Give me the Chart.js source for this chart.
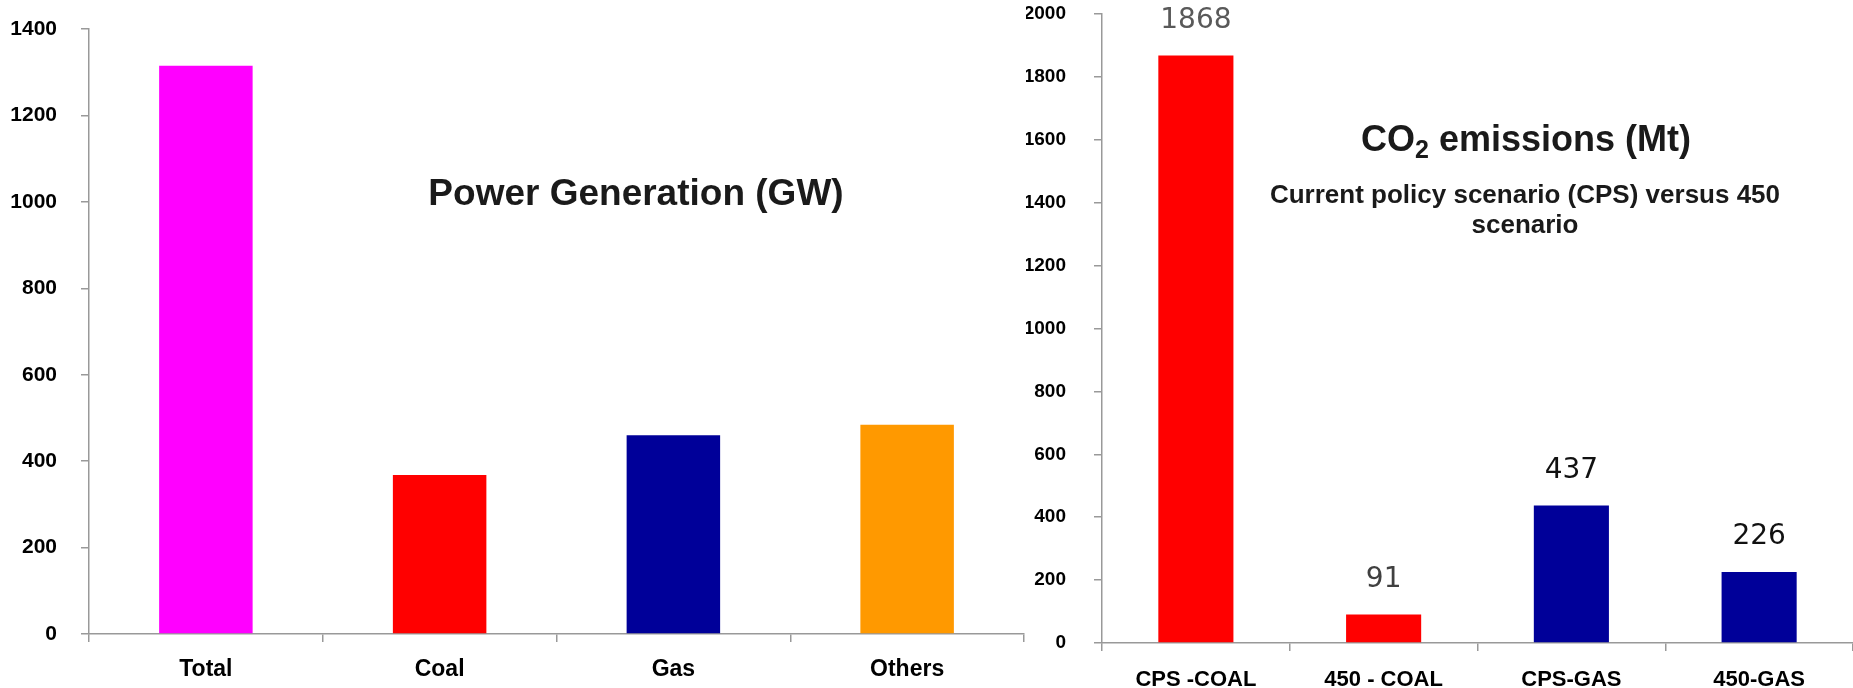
<!DOCTYPE html>
<html>
<head>
<meta charset="utf-8">
<script src="https://cdn.jsdelivr.net/npm/chart.js@4.4.0/dist/chart.umd.min.js"></script>
<style>
  body { margin: 0; background: #fff; width: 1853px; height: 688px; overflow: hidden; position: relative; }
  .box { position: absolute; top: 0; height: 688px; }
  .title { position: absolute; font-family: "Liberation Sans", Arial, sans-serif; font-weight: bold; color: #1a1a1a; white-space: nowrap; transform: translate(-50%, -50%); text-align: center; }
</style>
</head>
<body>
<div class="box" style="left:0;width:1026px"><canvas id="power" width="1026" height="688"></canvas></div>
<div class="box" style="left:1026px;width:827px"><canvas id="co2" width="827" height="688"></canvas></div>

<div class="title" style="left:636px;top:192px;font-size:37px;line-height:37px">Power Generation (GW)</div>
<div class="title" style="left:1526px;top:144px;font-size:36px;line-height:36px">CO<sub style="font-size:25px;vertical-align:-7px">2</sub> emissions (Mt)</div>
<div class="title" style="left:1525px;top:209px;font-size:26px;line-height:30px">Current policy scenario (CPS) versus 450<br>scenario</div>

<script>
const powerCategories = ["Total", "Coal", "Gas", "Others"];
const powerValues = [1315, 368, 460, 484];
const powerColors = ["#FF00FF", "#FF0000", "#000099", "#FF9900"];

const co2Categories = ["CPS -COAL", "450 - COAL", "CPS-GAS", "450-GAS"];
const co2Values = [1868, 91, 437, 226];
const co2Colors = ["#FF0000", "#FF0000", "#000099", "#000099"];
const co2LabelColors = ["#595959", "#404040", "#111111", "#111111"];

const axisGrey = "#999999";
const fontName = "'Liberation Sans', Arial, sans-serif";

// value labels above the CO2 bars
const valueLabels = {
  id: "valueLabels",
  afterDatasetsDraw(chart) {
    const ctx = chart.ctx;
    const meta = chart.getDatasetMeta(0);
    ctx.save();
    ctx.font = "28px 'DejaVu Sans'";
    ctx.textAlign = "center";
    ctx.textBaseline = "middle";
    meta.data.forEach((bar, i) => {
      ctx.fillStyle = co2LabelColors[i];
      ctx.fillText(String(co2Values[i]), bar.x, bar.y - 35);
    });
    ctx.restore();
  },
};

function makeConfig(labels, values, colors, opts) {
  return {
    type: "bar",
    data: {
      labels: labels,
      datasets: [
        {
          data: values,
          backgroundColor: colors,
          barPercentage: 0.4,
          categoryPercentage: 1,
        },
      ],
    },
    options: {
      responsive: false,
      animation: false,
      layout: { padding: opts.padding },
      plugins: {
        legend: { display: false },
        tooltip: { enabled: false },
        title: { display: false },
      },
      scales: {
        x: {
          grid: { drawOnChartArea: false, tickLength: 8, color: axisGrey, lineWidth: 1.5 },
          border: { color: axisGrey, width: 1.5 },
          ticks: {
            font: { family: fontName, size: opts.xFont, weight: "bold" },
            color: "#000",
            padding: opts.xPad,
            maxRotation: 0,
            autoSkip: false,
          },
          afterFit: (scale) => {
            scale.height = opts.xHeight;
            scale.paddingLeft = 0;
            scale.paddingRight = 0;
          },
        },
        y: {
          min: 0,
          max: opts.yMax,
          grid: { drawOnChartArea: false, tickLength: 8, color: axisGrey, lineWidth: 1.5 },
          border: { color: axisGrey, width: 1.5 },
          ticks: {
            stepSize: 200,
            font: { family: fontName, size: opts.yFont, weight: "bold" },
            color: "#000",
            padding: opts.yPad,
            callback: (v) => String(v),
          },
          afterFit: (scale) => {
            scale.width = opts.yWidth;
            scale.paddingTop = 0;
            scale.paddingBottom = 0;
          },
        },
      },
    },
    plugins: opts.plugins || [],
  };
}

new Chart(
  document.getElementById("power"),
  makeConfig(powerCategories, powerValues, powerColors, {
    padding: { top: 29, left: 0, right: 2, bottom: 0 },
    yMax: 1400, yFont: 21, yPad: 24, yWidth: 89,
    xFont: 23, xPad: 14, xHeight: 54,
  })
);

new Chart(
  document.getElementById("co2"),
  makeConfig(co2Categories, co2Values, co2Colors, {
    padding: { top: 14, left: 0, right: 0, bottom: 0 },
    yMax: 2000, yFont: 19, yPad: 28, yWidth: 76,
    xFont: 22, xPad: 16, xHeight: 45,
    plugins: [valueLabels],
  })
);
</script>
</body>
</html>
